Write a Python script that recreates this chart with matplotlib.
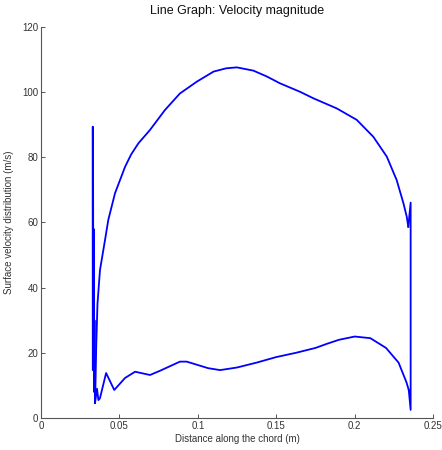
import matplotlib
matplotlib.use("Agg")
import matplotlib.pyplot as plt

# upper surface (leading edge -> trailing edge)
upper_x = [0.0345, 0.0352, 0.0360, 0.0376, 0.0408, 0.0429, 0.0472, 0.0536, 0.0575,
           0.0621, 0.0695, 0.0790, 0.0886, 0.0993, 0.1100, 0.1180, 0.1248, 0.1354,
           0.1440, 0.1524, 0.1652, 0.1737, 0.1886, 0.2013, 0.2119, 0.2205, 0.2268,
           0.2311, 0.2332, 0.2342]
upper_y = [4.6, 22.0, 35.0, 45.4, 54.6, 60.8, 69.0, 77.1, 80.9,
           84.3, 88.4, 94.5, 99.6, 103.2, 106.3, 107.3, 107.6, 106.6,
           104.8, 102.7, 100.1, 98.1, 95.0, 91.5, 86.3, 80.2, 73.0,
           65.9, 61.8, 58.7]

# lower surface (leading edge -> trailing edge)
lower_x = [0.0344, 0.0357, 0.0366, 0.0376, 0.0415, 0.0467, 0.0536, 0.0600, 0.0695,
           0.0759, 0.0886, 0.0929, 0.1065, 0.1142, 0.1250, 0.1375, 0.1500, 0.1625,
           0.1750, 0.1825, 0.1900, 0.2000, 0.2100, 0.2200, 0.2280, 0.2330, 0.2345]
lower_y = [4.6, 9.0, 5.5, 6.1, 13.8, 8.6, 12.3, 14.2, 13.2,
           14.5, 17.3, 17.3, 15.3, 14.7, 15.5, 17.0, 18.7, 20.0,
           21.5, 22.8, 24.0, 25.0, 24.5, 21.5, 17.0, 11.0, 8.6]

# leading edge spike
le_x = [0.0330, 0.0330, 0.0331, 0.0332, 0.0334, 0.0336, 0.0338, 0.0341, 0.0344]
le_y = [15.0, 89.4, 14.7, 76.0, 17.0, 58.0, 8.0, 30.0, 4.6]

# trailing edge spike
te_x = [0.2342, 0.2357, 0.2357, 0.2345]
te_y = [58.7, 66.1, 2.5, 8.6]

fig = plt.figure(figsize=(4.42, 4.50), dpi=100)
ax = fig.add_axes([0.0928, 0.0711, 0.887, 0.869])

blue = (0, 0, 1)
ax.plot(le_x, le_y, color=blue, lw=1.3)
ax.plot(upper_x, upper_y, color=blue, lw=1.3)
ax.plot(lower_x, lower_y, color=blue, lw=1.3)
ax.plot(te_x, te_y, color=blue, lw=1.3)

ax.set_xlim(0, 0.25)
ax.set_ylim(0, 120)
ax.set_xticks([0, 0.05, 0.1, 0.15, 0.2, 0.25])
ax.set_xticklabels(["0", "0.05", "0.1", "0.15", "0.2", "0.25"])
ax.set_yticks([0, 20, 40, 60, 80, 100, 120])

for side in ["top", "right"]:
    ax.spines[side].set_visible(False)
for side in ["left", "bottom"]:
    ax.spines[side].set_color("#555555")
    ax.spines[side].set_linewidth(0.8)

ax.tick_params(direction="in", length=3, width=0.7, color="#555555",
               labelsize=7, labelcolor="#333333", pad=2)

font = "Liberation Sans"
for lab in ax.get_xticklabels() + ax.get_yticklabels():
    lab.set_family(font)

ax.set_title("Line Graph: Velocity magnitude", fontsize=9, family=font,
             pad=9, color="#111111")
ax.set_xlabel("Distance along the chord (m)", fontsize=7, family=font,
              color="#333333", labelpad=2)
ax.set_ylabel("Surface velocity distribution (m/s)", fontsize=7, family=font,
              color="#333333", labelpad=6)

fig.savefig("out.png", dpi=100)
